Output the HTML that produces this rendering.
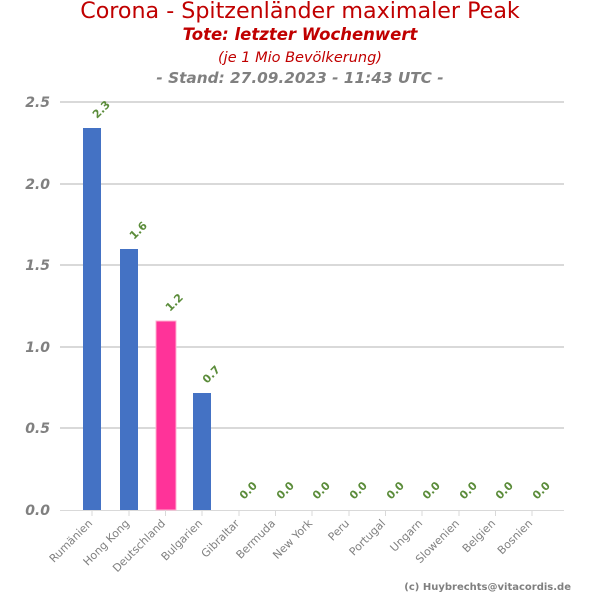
<!DOCTYPE html>
<html><head><meta charset="utf-8"><style>body{margin:0;background:#fff}svg{display:block}</style></head><body>
<svg width="600" height="600" xmlns="http://www.w3.org/2000/svg" font-family="DejaVu Sans, Liberation Sans, sans-serif">
<text x="300" y="18" text-anchor="middle" font-size="22.2" fill="#c00000">Corona - Spitzenländer maximaler Peak</text>
<text x="300" y="40" text-anchor="middle" font-size="16.5" font-weight="bold" font-style="italic" fill="#c00000">Tote: letzter Wochenwert</text>
<text x="300" y="62" text-anchor="middle" font-size="14.5" font-style="italic" fill="#c00000">(je 1 Mio Bevölkerung)</text>
<text x="300" y="83" text-anchor="middle" font-size="15.3" font-weight="bold" font-style="italic" fill="#808080">- Stand: 27.09.2023 - 11:43 UTC -</text>
<g stroke="#d9d9d9" stroke-width="2">
<line x1="60" x2="564" y1="102" y2="102"/><line x1="60" x2="564" y1="184" y2="184"/><line x1="60" x2="564" y1="265" y2="265"/><line x1="60" x2="564" y1="347" y2="347"/><line x1="60" x2="564" y1="428" y2="428"/>
</g>
<line x1="60" x2="564" y1="510.5" y2="510.5" stroke="#d9d9d9"/>
<g font-size="14" font-weight="bold" font-style="italic" fill="#808080" text-anchor="end">
<text x="50" y="107">2.5</text><text x="50" y="189">2.0</text><text x="50" y="270">1.5</text><text x="50" y="352">1.0</text><text x="50" y="433">0.5</text><text x="50" y="515">0.0</text>
</g>
<rect x="83" y="128" width="18" height="382" fill="#4472c4"/>
<rect x="120" y="249" width="18" height="261" fill="#4472c4"/>
<rect x="156" y="321" width="20" height="189" fill="#ff3399" stroke="#ffb0d0" stroke-width="1"/>
<rect x="193" y="393" width="18" height="117" fill="#4472c4"/>
<g stroke="#d9d9d9">
<line x1="92" x2="92" y1="510" y2="516"/><line x1="129" x2="129" y1="510" y2="516"/><line x1="165.5" x2="165.5" y1="510" y2="516"/><line x1="202" x2="202" y1="510" y2="516"/><line x1="239" x2="239" y1="510" y2="516"/><line x1="275.5" x2="275.5" y1="510" y2="516"/><line x1="312" x2="312" y1="510" y2="516"/><line x1="349" x2="349" y1="510" y2="516"/><line x1="385.5" x2="385.5" y1="510" y2="516"/><line x1="422" x2="422" y1="510" y2="516"/><line x1="459" x2="459" y1="510" y2="516"/><line x1="495.5" x2="495.5" y1="510" y2="516"/><line x1="532" x2="532" y1="510" y2="516"/>
</g>
<g font-size="11" font-weight="bold" fill="#5b8c3a">
<text transform="translate(97,119) rotate(-45)">2.3</text>
<text transform="translate(134,240) rotate(-45)">1.6</text>
<text transform="translate(170,312) rotate(-45)">1.2</text>
<text transform="translate(207,384) rotate(-45)">0.7</text>
<text transform="translate(244,500) rotate(-45)">0.0</text>
<text transform="translate(281,500) rotate(-45)">0.0</text>
<text transform="translate(317,500) rotate(-45)">0.0</text>
<text transform="translate(354,500) rotate(-45)">0.0</text>
<text transform="translate(391,500) rotate(-45)">0.0</text>
<text transform="translate(427,500) rotate(-45)">0.0</text>
<text transform="translate(464,500) rotate(-45)">0.0</text>
<text transform="translate(500,500) rotate(-45)">0.0</text>
<text transform="translate(537,500) rotate(-45)">0.0</text>
</g>
<g font-size="11" fill="#808080" text-anchor="end">
<text transform="translate(93,524) rotate(-45)">Rumänien</text>
<text transform="translate(130,524) rotate(-45)">Hong Kong</text>
<text transform="translate(166,524) rotate(-45)">Deutschland</text>
<text transform="translate(203,524) rotate(-45)">Bulgarien</text>
<text transform="translate(240,524) rotate(-45)">Gibraltar</text>
<text transform="translate(276,524) rotate(-45)">Bermuda</text>
<text transform="translate(313,524) rotate(-45)">New York</text>
<text transform="translate(350,524) rotate(-45)">Peru</text>
<text transform="translate(386,524) rotate(-45)">Portugal</text>
<text transform="translate(423,524) rotate(-45)">Ungarn</text>
<text transform="translate(460,524) rotate(-45)">Slowenien</text>
<text transform="translate(496,524) rotate(-45)">Belgien</text>
<text transform="translate(533,524) rotate(-45)">Bosnien</text>
</g>
<text x="571" y="590" text-anchor="end" font-size="10" font-weight="bold" fill="#808080">(c) Huybrechts@vitacordis.de</text>
</svg>
</body></html>
